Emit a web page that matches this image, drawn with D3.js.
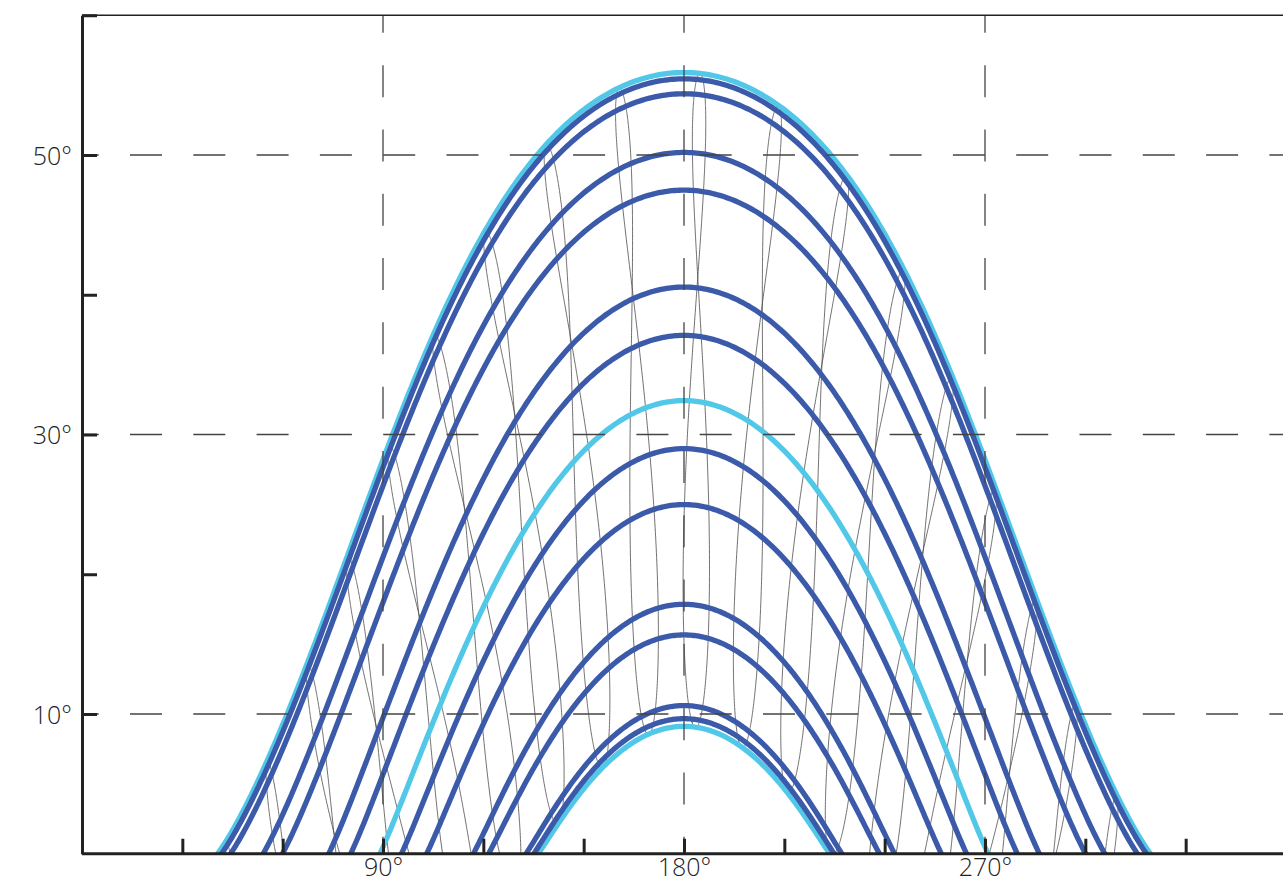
<!DOCTYPE html>
<html>
<head>
<meta charset="utf-8">
<script src="https://cdn.jsdelivr.net/npm/d3@7"></script>
<style>
  html, body { margin: 0; padding: 0; background: #fff; }
  svg { display: block; }
  .axis text { font-family: "Open Sans", sans-serif; font-weight: 300; font-size: 25px; fill: #222; }
</style>
</head>
<body>
<div id="chart"></div>
<script>
// Values
const latitude = 57.6;          // from the noon altitudes of the solstice/equinox curves
const clockOffsetDeg = 3.3;     // hour angle at 12:00 clock time (degrees)

// one curve per date: noon altitude read at azimuth 180
const pathDates = ['Jul 1', 'Jun 1', 'Aug 1', 'May 1', 'Sep 1', 'Apr 1', 'Oct 1', 'Mar 1', 'Nov 1', 'Feb 1', 'Dec 1', 'Jan 1'];
const pathNoonAlt = [55.44, 54.37, 50.17, 47.47, 40.53, 37.07, 28.96, 24.95, 17.8, 15.6, 10.52, 9.57];
const keyDates = ['Jun 21', 'Mar 21', 'Dec 21'];
const keyNoonAlt = [55.89, 32.40, 9.02];

// clock hours drawn as analemma loops
const hours = [2, 3, 4, 5, 6, 7, 8, 9, 10, 11, 12, 13, 14, 15, 16, 17, 18, 19, 20, 21, 22];

const xTicks = [30, 60, 90, 120, 150, 180, 210, 240, 270, 300, 330];
const xLabels = [90, 180, 270];
const yTicks = [10, 20, 30, 40, 50, 60];
const yLabels = [10, 30, 50];

const blue = '#3b5aa9', cyan = '#52c8e8';
const width = 1283, height = 883;
const rad = Math.PI / 180;

const svg = d3.select('#chart').append('svg')
    .attr('width', width)
    .attr('height', height);

const x = d3.scaleLinear().domain([0, 360]).range([82, 1286]);
const y = d3.scaleLinear().domain([0, 60]).range([853.75, 15.25]);

svg.append('defs').append('clipPath').attr('id', 'plot')
  .append('rect')
    .attr('x', x(0)).attr('y', y(60))
    .attr('width', x(360) - x(0)).attr('height', y(0) - y(60));

function refraction(alt) {
  if (alt < -1.5) return 0;
  return 1.02 / Math.tan((alt + 10.3 / (alt + 5.11)) * rad) / 60;
}

// altitude / azimuth of the sun for declination and hour angle (degrees)
function sunPos(dec, h) {
  const p = latitude * rad, d = dec * rad, hr = h * rad;
  const sinA = Math.sin(p) * Math.sin(d) + Math.cos(p) * Math.cos(d) * Math.cos(hr);
  let alt = Math.asin(sinA) / rad;
  alt += refraction(alt);
  const az = 180 + Math.atan2(Math.sin(hr), Math.cos(hr) * Math.sin(p) - Math.tan(d) * Math.cos(p)) / rad;
  return {az: az, alt: alt};
}

// declination and equation of time for day of year (Spencer)
function solarDay(n) {
  const b = 2 * Math.PI * (n - 1) / 365;
  const dec = (0.006918 - 0.399912 * Math.cos(b) + 0.070257 * Math.sin(b)
    - 0.006758 * Math.cos(2 * b) + 0.000907 * Math.sin(2 * b)
    - 0.002697 * Math.cos(3 * b) + 0.00148 * Math.sin(3 * b)) / rad;
  const eot = 229.18 * (0.000075 + 0.001868 * Math.cos(b) - 0.032077 * Math.sin(b)
    - 0.014615 * Math.cos(2 * b) - 0.040849 * Math.sin(2 * b));
  return {dec: dec, eot: eot};
}

const line = d3.line()
    .defined(d => d.alt > -4)
    .x(d => x(d.az))
    .y(d => y(d.alt));

const g = svg.append('g').attr('clip-path', 'url(#plot)');

// analemma (hour) lines
const days = d3.range(0, 366.01, 0.5);
hours.forEach(t => {
  const pts = days.map(n => {
    const s = solarDay(n);
    return sunPos(s.dec, 15 * (t - 12) + clockOffsetDeg + s.eot / 4);
  });
  g.append('path')
      .attr('d', line(pts))
      .attr('fill', 'none')
      .attr('stroke', '#4a4a4a')
      .attr('stroke-width', 0.8);
});

// sun paths
const hourAngles = d3.range(-180, 180.01, 0.5);
function drawPath(noonAlt, color) {
  const dec = noonAlt - (90 - latitude);
  const pts = hourAngles.map(h => sunPos(dec, h));
  g.append('path')
      .attr('d', line(pts))
      .attr('fill', 'none')
      .attr('stroke', color)
      .attr('stroke-width', 5.3);
}
keyNoonAlt.forEach(a => drawPath(a, cyan));
pathNoonAlt.forEach(a => drawPath(a, blue));

// dashed grid on top
const grid = svg.append('g')
    .attr('stroke', '#444')
    .attr('stroke-width', 1.3)
    .attr('fill', 'none');
grid.selectAll('.hgrid').data(yLabels).enter().append('line')
    .attr('x1', x(0)).attr('x2', width)
    .attr('y1', d => y(d)).attr('y2', d => y(d))
    .attr('stroke-dasharray', '32 31.3')
    .attr('stroke-dashoffset', 15.3);
grid.selectAll('.vgrid').data(xLabels).enter().append('line')
    .attr('x1', d => x(d)).attr('x2', d => x(d))
    .attr('y1', y(0)).attr('y2', y(60))
    .attr('stroke-dasharray', '32 32.3')
    .attr('stroke-dashoffset', 15);

// top border
svg.append('line')
    .attr('x1', x(0)).attr('x2', width)
    .attr('y1', y(60)).attr('y2', y(60))
    .attr('stroke', '#222').attr('stroke-width', 1.5);

// axes
const yAxis = d3.axisLeft(y)
    .tickValues(yTicks)
    .tickSize(-15)
    .tickSizeOuter(0)
    .tickPadding(10)
    .tickFormat(d => yLabels.includes(d) ? d + '°' : '');
const yg = svg.append('g').attr('class', 'axis')
    .attr('transform', `translate(${x(0)},0)`)
    .call(yAxis);

const xAxis = d3.axisBottom(x)
    .tickValues(xTicks)
    .tickSize(-15)
    .tickSizeOuter(0)
    .tickFormat(d => xLabels.includes(d) ? d + '°' : '');
const xg = svg.append('g').attr('class', 'axis')
    .attr('transform', `translate(0,${y(0)})`)
    .call(xAxis);
xg.select('.domain').attr('d', `M${x(0)},0H${width}`);

[yg, xg].forEach(a => {
  a.select('.domain').attr('stroke', '#222').attr('stroke-width', 3);
  a.selectAll('.tick line').attr('stroke', '#222').attr('stroke-width', 3);
});
yg.selectAll('.tick text').attr('dy', '0.36em');
xg.selectAll('.tick text').attr('y', 22).attr('dy', 0);
</script>
</body>
</html>
